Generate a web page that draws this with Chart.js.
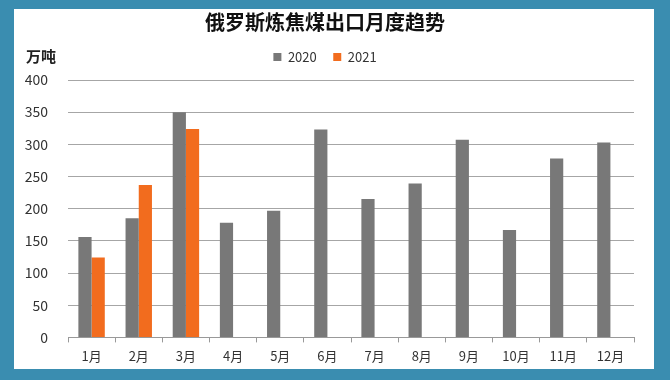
<!DOCTYPE html>
<html>
<head>
<meta charset="utf-8">
<script src="https://cdn.jsdelivr.net/npm/chart.js@4"></script>
<style>
  html, body { margin: 0; padding: 0; background: #3a8db0; }
  #wrap { position: relative; width: 670px; height: 380px; }
</style>
</head>
<body>
<div id="wrap"><canvas id="myCanvas" width="670" height="380"></canvas></div>
<script>
const labels = ['1月', '2月', '3月', '4月', '5月', '6月', '7月', '8月', '9月', '10月', '11月', '12月'];
const values2020 = [156, 185, 350, 178, 197, 323, 215, 239, 307, 167, 278, 303];
const values2021 = [124, 237, 324, null, null, null, null, null, null, null, null, null];
const yTicks = [0, 50, 100, 150, 200, 250, 300, 350, 400];

const FONT = '"Noto Sans CJK SC", "Noto Sans", sans-serif';

// teal frame + white panel, plus the unit label
const framePlugin = {
  id: 'frame',
  beforeDraw(chart) {
    const ctx = chart.ctx;
    ctx.save();
    ctx.fillStyle = '#3a8db0';
    ctx.fillRect(0, 0, chart.width, chart.height);
    ctx.fillStyle = '#ffffff';
    ctx.fillRect(14, 9, 640, 360);
    ctx.restore();
  },
  afterDraw(chart) {
    const ctx = chart.ctx;
    ctx.save();
    ctx.fillStyle = '#222';
    ctx.font = 'bold 15px ' + FONT;
    ctx.textAlign = 'left';
    ctx.textBaseline = 'middle';
    ctx.fillText('万吨', 26, 56);
    ctx.restore();
  }
};

const data = {
  labels: labels,
  datasets: [{
    label: '2020',
    backgroundColor: 'rgb(120, 120, 120)',
    data: values2020
  },
  {
    label: '2021',
    backgroundColor: 'rgb(242, 108, 30)',
    data: values2021
  }]
};

const config = {
  type: 'bar',
  data: data,
  options: {
    responsive: false,
    animation: false,
    layout: { padding: { left: 16, right: 36, top: 4, bottom: 10 } },
    datasets: {
      bar: { categoryPercentage: 0.56, barPercentage: 1.0 }
    },
    plugins: {
      title: {
        display: true,
        text: '俄罗斯炼焦煤出口月度趋势',
        color: '#111',
        font: { family: FONT, size: 20, weight: 'bold' },
        padding: { top: 6, bottom: 0 }
      },
      legend: {
        display: true,
        labels: {
          boxWidth: 8,
          boxHeight: 8,
          color: '#333',
          font: { family: FONT, size: 13 },
          padding: 16.5
        }
      },
      tooltip: { enabled: false }
    },
    scales: {
      x: {
        grid: { display: true, drawOnChartArea: false, drawTicks: true, tickLength: 5, offset: true, color: '#999' },
        border: { display: true, color: '#999' },
        ticks: { color: '#333', font: { family: FONT, size: 13 }, padding: 6 }
      },
      // spacer between legend and plot
      x2: {
        position: 'top',
        afterFit(scale) { scale.height = 6.5; },
        grid: { display: false },
        border: { display: false },
        ticks: { display: false }
      },
      y: {
        min: 0,
        max: 400,
        afterBuildTicks(scale) { scale.ticks = yTicks.map(v => ({ value: v })); },
        afterFit(scale) { scale.width = 52; },
        grid: { color: '#a6a6a6', drawTicks: false },
        border: { display: false },
        ticks: { color: '#333', font: { family: FONT, size: 14 }, padding: 20 }
      }
    }
  },
  plugins: [framePlugin]
};

const myChart = new Chart(
  document.getElementById('myCanvas'),
  config
);
</script>
</body>
</html>
